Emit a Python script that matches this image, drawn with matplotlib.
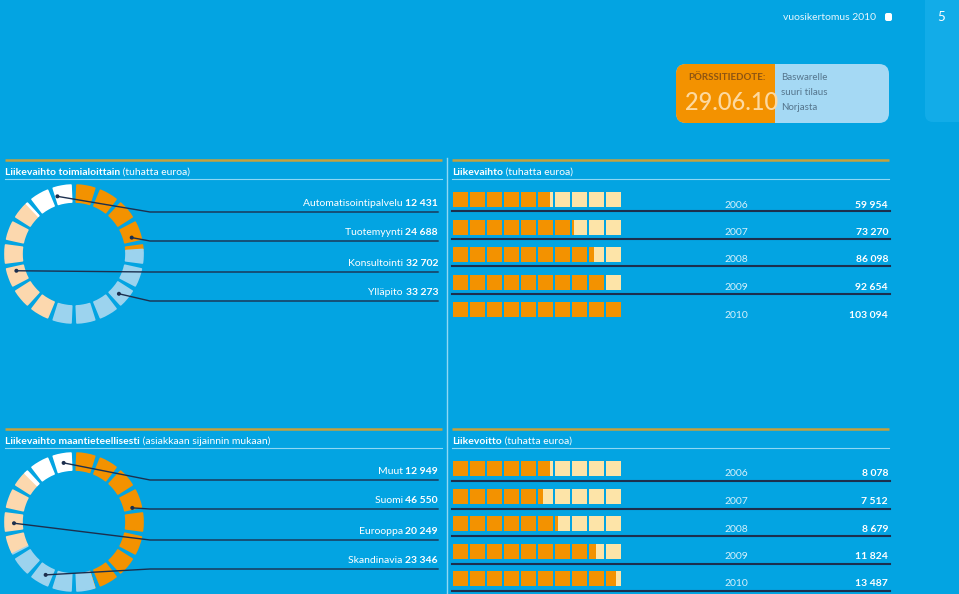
import numpy as np
import matplotlib.pyplot as plt
from matplotlib.patches import Wedge, Rectangle, FancyBboxPatch, Circle

plt.rcParams['font.family'] = ['Lato', 'DejaVu Sans']

# ---- data ----
seg_names = ["Automatisointipalvelu", "Tuotemyynti", "Konsultointi", "Ylläpito"]
seg_values = [12431, 24688, 32702, 33273]
seg_labels = ["12 431", "24 688", "32 702", "33 273"]

geo_names = ["Muut", "Suomi", "Eurooppa", "Skandinavia"]
geo_values = [12949, 46550, 20249, 23346]
geo_labels = ["12 949", "46 550", "20 249", "23 346"]

years = ["2006", "2007", "2008", "2009", "2010"]
revenue = [59954, 73270, 86098, 92654, 103094]
revenue_labels = ["59 954", "73 270", "86 098", "92 654", "103 094"]
profit = [8078, 7512, 8679, 11824, 13487]
profit_labels = ["8 078", "7 512", "8 679", "11 824", "13 487"]

# ---- style ----
BG = '#03A4E2'
ORANGE = '#F39200'
PALE = '#FDE4A8'
PEACH = '#FCD8AE'
LBLUE = '#9CD3EE'
WHITE = '#FFFFFF'
NAVY = '#1C2F4E'
GOLD = '#C7A13C'
THIN = '#8FD8F4'

# colour per category (label order), ring drawing order clockwise from top
cat_colors = [WHITE, ORANGE, PEACH, LBLUE]
ring_order = [1, 3, 2, 0]
geo_ring_order = [1, 3, 2, 0]
seg_dot_frac = [0.63, 0.86, 0.45, 0.39]
geo_dot_frac = [0.78, 0.47, 0.35, 0.56]

fig = plt.figure(figsize=(9.59, 5.94), dpi=100)
fig.patch.set_facecolor(BG)
ax = fig.add_axes([0, 0, 1, 1])
ax.set_xlim(0, 959)
ax.set_ylim(594, 0)
ax.axis('off')
ax.set_facecolor(BG)


def two_part(x, y, bold, rest, ha='left', size=7.5, c1='white', c2='white'):
    if ha == 'left':
        t = ax.text(x, y, bold, fontsize=size, fontweight='bold', color=c1,
                    ha='left', va='bottom')
        ax.annotate(rest, xy=(1, 0), xycoords=t, fontsize=size, color=c2,
                    ha='left', va='bottom')
    else:
        t = ax.text(x, y, rest, fontsize=size, fontweight='bold', color=c1,
                    ha='right', va='bottom')
        ax.annotate(bold + ' ', xy=(0, 0), xycoords=t, fontsize=size, color=c2,
                    ha='right', va='bottom')


def panel_frame(x0, x1, ytop, bold, rest):
    ax.plot([x0, x1], [ytop, ytop], color=GOLD, lw=1.8, solid_capstyle='butt')
    ax.plot([x0, x1], [ytop + 19, ytop + 19], color=THIN, lw=0.8)
    two_part(x0, ytop + 17, bold, rest)


def ring(cx, cy, values, order, dot_frac, names, labels, ytop):
    n_seg, r_out, r_in, gap = 18, 69, 52, 5
    total = sum(values)
    bounds = np.cumsum([0] + [values[i] / total * 360 for i in order])
    for s in range(n_seg):
        a0 = s * 360 / n_seg + gap / 2
        a1 = (s + 1) * 360 / n_seg - gap / 2
        for j, i in enumerate(order):
            lo, hi = max(a0, bounds[j]), min(a1, bounds[j + 1])
            if hi > lo:
                w = Wedge((cx, cy), r_out, lo - 90, hi - 90, width=r_out - r_in,
                          facecolor=cat_colors[i], edgecolor=cat_colors[i],
                          lw=1.2, joinstyle='round')
                ax.add_patch(w)
    line_ys = [ytop + 52, ytop + 81, ytop + 112, ytop + 141]
    for k in range(4):
        j = order.index(k)
        ang = bounds[j] + dot_frac[k] * (bounds[j + 1] - bounds[j])
        th = np.radians(ang - 90)
        dx, dy = cx + 60 * np.cos(th), cy + 60 * np.sin(th)
        ly = line_ys[k]
        ax.plot([dx, 150, 438], [dy, ly, ly], color=NAVY, lw=1.0)
        ax.add_patch(Circle((dx, dy), 1.3, color=NAVY))
        two_part(438, ly - 4, names[k], labels[k], ha='right')


def squares(x0, ytop, values, labels, full_scale):
    for r, v in enumerate(values):
        y = ytop + 32 + r * 27.5
        fill = v / full_scale * 10
        for k in range(10):
            x = x0 + k * 17
            f = float(np.clip(fill - k, 0, 1))
            if f > 0:
                ax.add_patch(Rectangle((x, y), 15 * f, 15, facecolor=ORANGE, lw=0))
            if f < 1:
                ax.add_patch(Rectangle((x + 15 * f, y), 15 * (1 - f), 15,
                                       facecolor=PALE, lw=0))
        ax.text(736, y + 13, years[r], fontsize=7.5, color='#D5F0FB',
                ha='center', va='center')
        ax.text(888, y + 13, labels[r], fontsize=7.5, color='white',
                fontweight='bold', ha='right', va='center')


# top panels
panel_frame(5, 442, 160, "Liikevaihto toimialoittain", " (tuhatta euroa)")
panel_frame(452, 889, 160, "Liikevaihto", " (tuhatta euroa)")
ring(74, 254, seg_values, ring_order, seg_dot_frac, seg_names, seg_labels, 160)
squares(453, 160, revenue, revenue_labels, max(revenue))
for r in range(4):
    y = 160 + 51 + r * 27.5
    ax.plot([452, 890], [y, y], color=NAVY, lw=1.5)

# bottom panels
panel_frame(5, 442, 429, "Liikevaihto maantieteellisesti",
            " (asiakkaan sijainnin mukaan)")
panel_frame(452, 889, 429, "Liikevoitto", " (tuhatta euroa)")
ring(74, 522, geo_values, geo_ring_order, geo_dot_frac, geo_names, geo_labels, 428)
squares(453, 429, profit, profit_labels, 14000)
for r in range(5):
    y = 429 + 52 + r * 27.5
    ax.plot([452, 890], [y, y], color=NAVY, lw=1.5)

ax.plot([447, 447], [158, 594], color=THIN, lw=1.0)

# header
ax.add_patch(FancyBboxPatch((925, -20), 60, 142, boxstyle='round,pad=0,rounding_size=8',
                            facecolor='#12ACE8', edgecolor='none'))
ax.text(941, 17, "5", fontsize=9.5, color='white', ha='center', va='center')
ax.text(876, 17, "vuosikertomus 2010", fontsize=7.5, color='#E6F6FD',
        ha='right', va='center')
ax.add_patch(FancyBboxPatch((885, 13), 7, 8, boxstyle='round,pad=0,rounding_size=2',
                            facecolor='white', edgecolor='none'))

ax.add_patch(FancyBboxPatch((676, 64), 213, 59, boxstyle='round,pad=0,rounding_size=10',
                            facecolor='#A5D9F4', edgecolor='none'))
ax.add_patch(FancyBboxPatch((676, 64), 110, 59, boxstyle='round,pad=0,rounding_size=10',
                            facecolor=ORANGE, edgecolor='none'))
ax.add_patch(Rectangle((775, 64), 14, 59, facecolor='#A5D9F4', lw=0))
ax.text(688, 77, "PÖRSSITIEDOTE:", fontsize=7, fontweight='bold', color='#8E5512',
        ha='left', va='center')
ax.text(685, 102, "29.06.10", fontsize=17, fontweight='medium', color='#FDD9A0',
        ha='left', va='center')
for k, s in enumerate(["Baswarelle", "suuri tilaus", "Norjasta"]):
    ax.text(781, 78 + k * 14.5, s, fontsize=7, color='#55758C', ha='left', va='center')

fig.savefig('out.png', dpi=100, facecolor=BG)
